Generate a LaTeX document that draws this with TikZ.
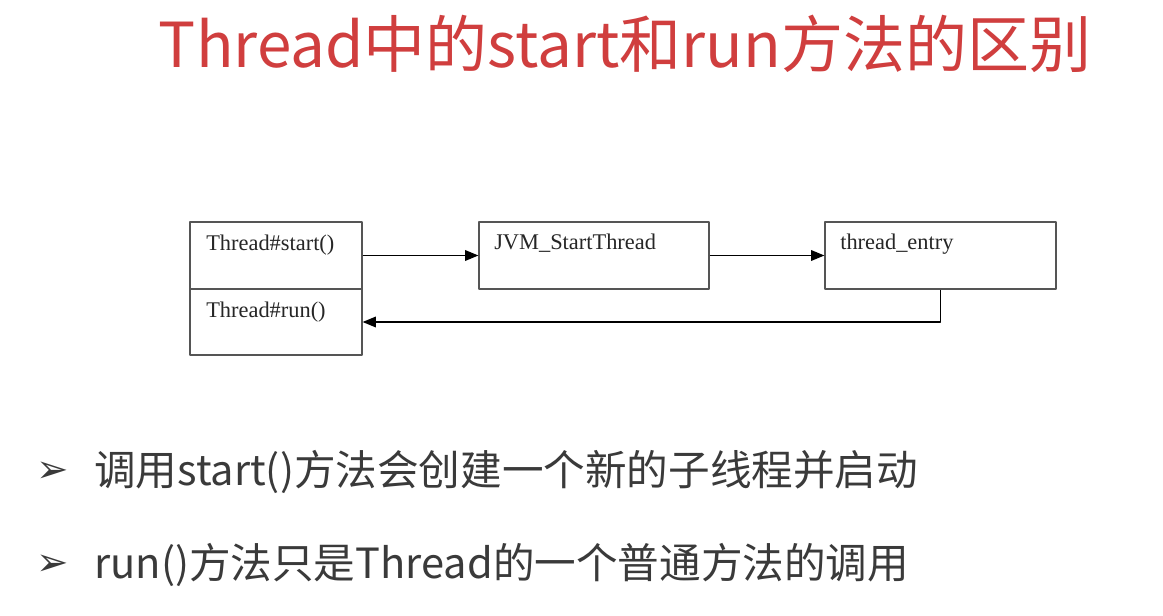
\documentclass[tikz,border=0pt]{standalone}
\usepackage{fontspec}
\setmainfont{Liberation Serif}
\newfontfamily\cjk{Noto Sans CJK SC}
\newfontfamily\sym{DejaVu Sans}
\usetikzlibrary{arrows.meta,positioning}
\definecolor{titlered}{RGB}{208,62,62}
\definecolor{bodygray}{RGB}{58,58,58}
\definecolor{boxline}{RGB}{85,85,85}
\tikzset{
  box/.style={draw=boxline, line width=0.9pt, rectangle, minimum height=50.25pt, inner sep=0pt},
  boxtext/.style={anchor=base west, font=\fontsize{16.8}{18}\selectfont, inner sep=0pt, text=black!85},
  flow/.style={draw=black, line width=1pt, -{Triangle[length=10pt,width=8pt]}},
  bullet/.style={anchor=base west, inner sep=0pt, text=bodygray, font=\cjk\fontsize{31.2}{34}\selectfont},
  bulletmark/.style={anchor=base west, inner sep=0pt, text=bodygray, font=\sym\fontsize{29}{30}\selectfont},
}
\begin{document}
\begin{tikzpicture}[x=0.75pt, y=-0.75pt, line join=round]
\useasboundingbox[fill=white] (0,0) rectangle (1163,616);
%标题
\node[anchor=base, inner sep=0pt, text=titlered, font=\cjk\fontsize{46.5}{52}\selectfont] (title) at (625,68) {Thread中的start和run方法的区别};
%方框
\node[box, minimum width=129pt] (start) at (276,255.5) {};
\node[box, minimum width=129pt, minimum height=49.5pt] (run) at (276,322) {};
\node[box, minimum width=172.5pt] (jvm) at (594,255.5) {};
\node[box, minimum width=173.25pt] (entry) at (940.5,255.5) {};
\node[boxtext] (starttxt) at (206,251) {Thread\#start()};
\node[boxtext] (runtxt) at (206,318) {Thread\#run()};
\node[boxtext] (jvmtxt) at (494,250) {JVM\_StartThread};
\node[boxtext] (entrytxt) at (840,250) {thread\_entry};
%箭头
\draw[flow] (start) -- (jvm);
\draw[flow] (jvm) -- (entry);
\draw[flow] (entry.south) |- (run.east);
%要点
\node[bulletmark] (mark1) at (36,482) {➢};
\node[bulletmark] (mark2) at (36,575) {➢};
\node[bullet] (point1) at (94,485) {调用start()方法会创建一个新的子线程并启动};
\node[bullet] (point2) at (94,578) {run()方法只是Thread的一个普通方法的调用};
\end{tikzpicture}
\end{document}
